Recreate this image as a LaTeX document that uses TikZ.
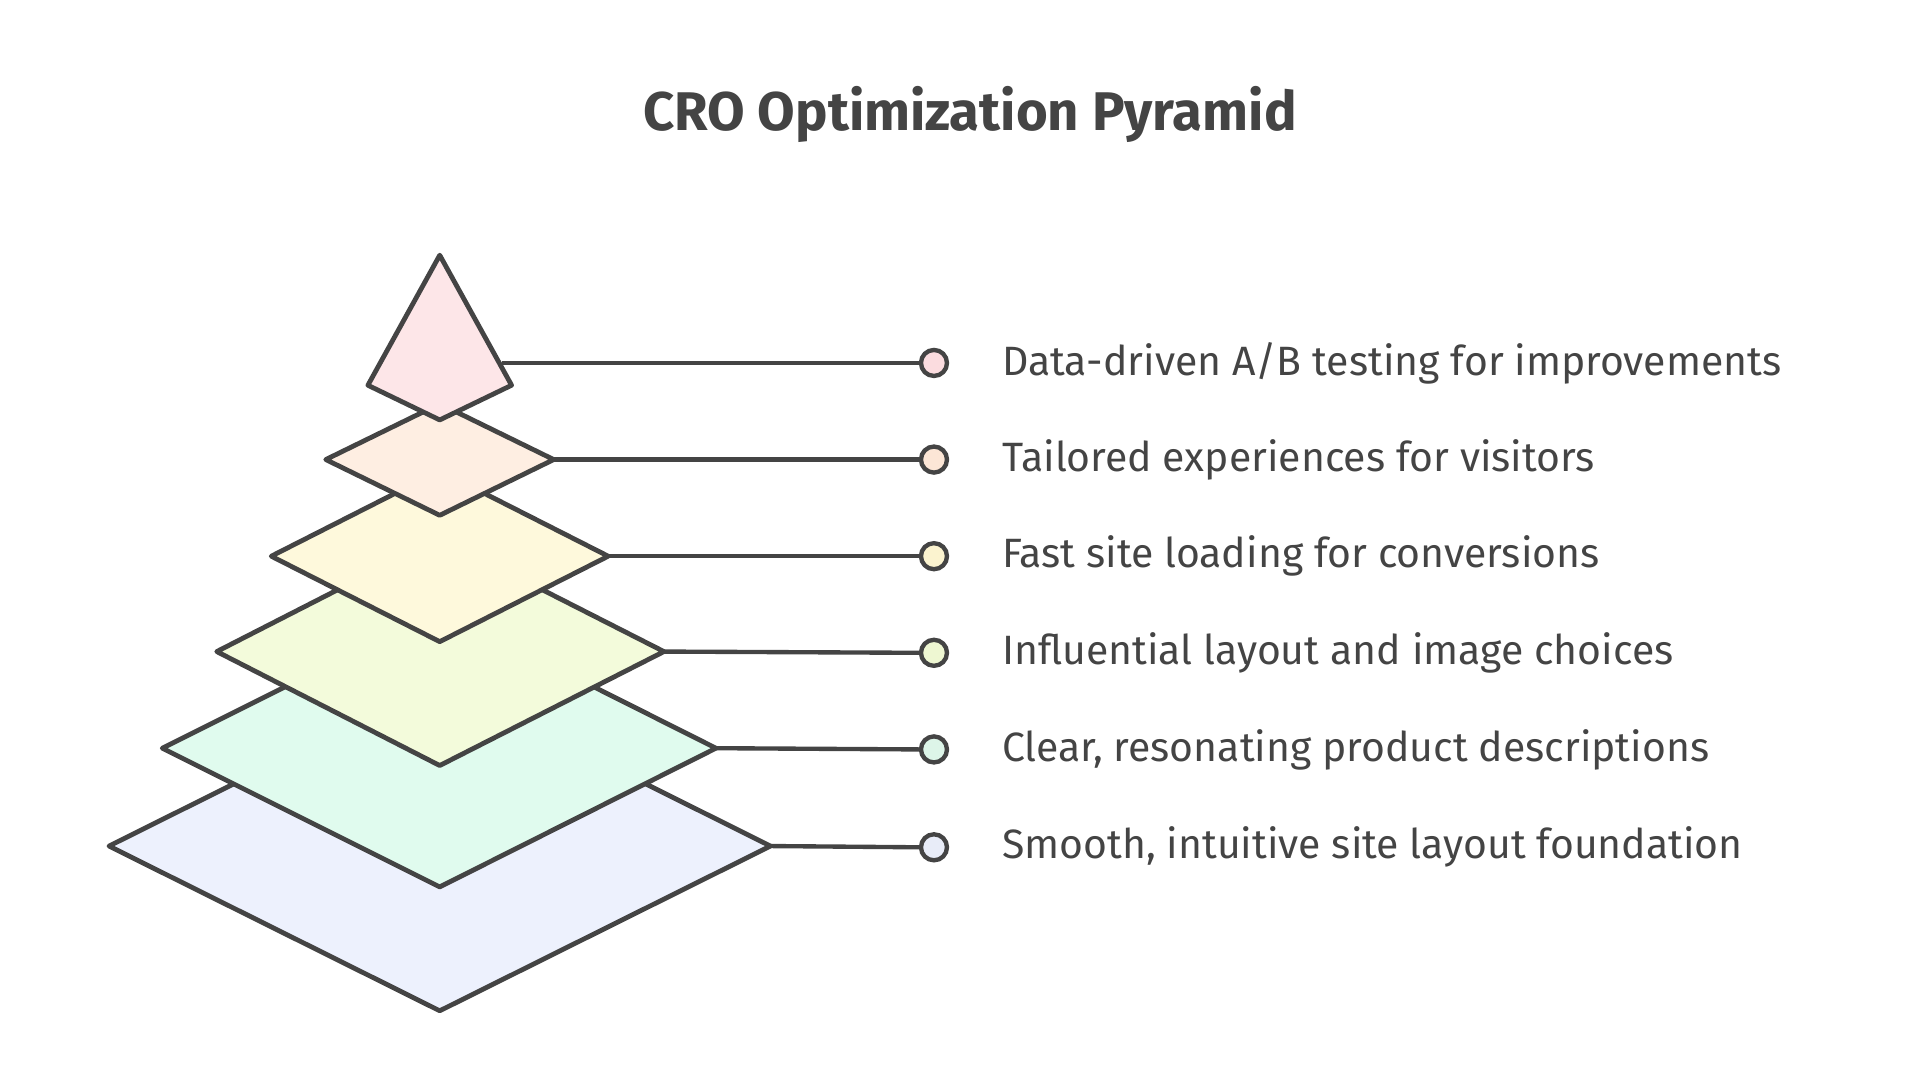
\documentclass[tikz,border=0pt]{standalone}
\usepackage{fontspec}
\setmainfont{Fira Sans}
\usetikzlibrary{positioning}
\definecolor{cline}{HTML}{444444}
\definecolor{fa}{HTML}{EDF1FD}
\definecolor{fb}{HTML}{E0FBEE}
\definecolor{fc}{HTML}{F3FBDB}
\definecolor{fd}{HTML}{FEF9DC}
\definecolor{fe}{HTML}{FEEEE2}
\definecolor{ff}{HTML}{FDE6E8}
\definecolor{da}{HTML}{E8ECF8}
\definecolor{db}{HTML}{DDF5E8}
\definecolor{dc}{HTML}{EEF7D2}
\definecolor{dd}{HTML}{FBF3CF}
\definecolor{de}{HTML}{FCE6D6}
\definecolor{df}{HTML}{FBDCDF}
\tikzset{
  layer/.style={draw=cline, line width=1.1pt, line join=round},
  dot/.style={circle, draw=cline, line width=1pt, minimum size=0.21cm, inner sep=0pt},
  label/.style={anchor=west, text=cline, font=\fontsize{9.4}{11}\selectfont, inner sep=0pt},
  link/.style={draw=cline, line width=1pt}
}
\begin{document}
\begin{tikzpicture}[x=0.01cm, y=-0.01cm]
\useasboundingbox (0,0) rectangle (1550,872);
\node[font=\fontsize{12.5}{14}\selectfont\bfseries, text=cline] (title) at (783,92) {CRO Optimization Pyramid};
% layers, bottom first
\draw[layer, fill=fa] (88,683) coordinate (la) -- (355,550) -- (622,683) coordinate (ra) -- (355,816) -- cycle;
\draw[layer, fill=fb] (131,604) -- (355,492) -- (578,604) coordinate (rb) -- (355,716) -- cycle;
\draw[layer, fill=fc] (175,526) -- (355,434) -- (536,526) coordinate (rc) -- (355,618) -- cycle;
\draw[layer, fill=fd] (219,449) -- (355,380) -- (491,449) coordinate (rd) -- (355,518) -- cycle;
\draw[layer, fill=fe] (263,371) -- (355,326) -- (447,371) coordinate (re) -- (355,416) -- cycle;
\draw[layer, fill=ff] (355,206) -- (413,311) -- (355,339) -- (297,311) -- cycle;
\coordinate (rf) at (405,293);
% dots and labels
\node[dot, fill=df] (dotf) at (754,293) {};
\node[dot, fill=de] (dote) at (754,371) {};
\node[dot, fill=dd] (dotd) at (754,449) {};
\node[dot, fill=dc] (dotc) at (754,527) {};
\node[dot, fill=db] (dotb) at (754,605) {};
\node[dot, fill=da] (dota) at (754,684) {};
\foreach \s in {a,b,c,d,e,f}
  \draw[link] (r\s) -- (dot\s.west);
\node[label, right=0.42cm of dotf] (labf) {Data-driven A/B testing for improvements};
\node[label, right=0.42cm of dote] (labe) {Tailored experiences for visitors};
\node[label, right=0.42cm of dotd] (labd) {Fast site loading for conversions};
\node[label, right=0.42cm of dotc] (labc) {Influential layout and image choices};
\node[label, right=0.42cm of dotb] (labb) {Clear, resonating product descriptions};
\node[label, right=0.42cm of dota] (laba) {Smooth, intuitive site layout foundation};
\end{tikzpicture}
\end{document}
